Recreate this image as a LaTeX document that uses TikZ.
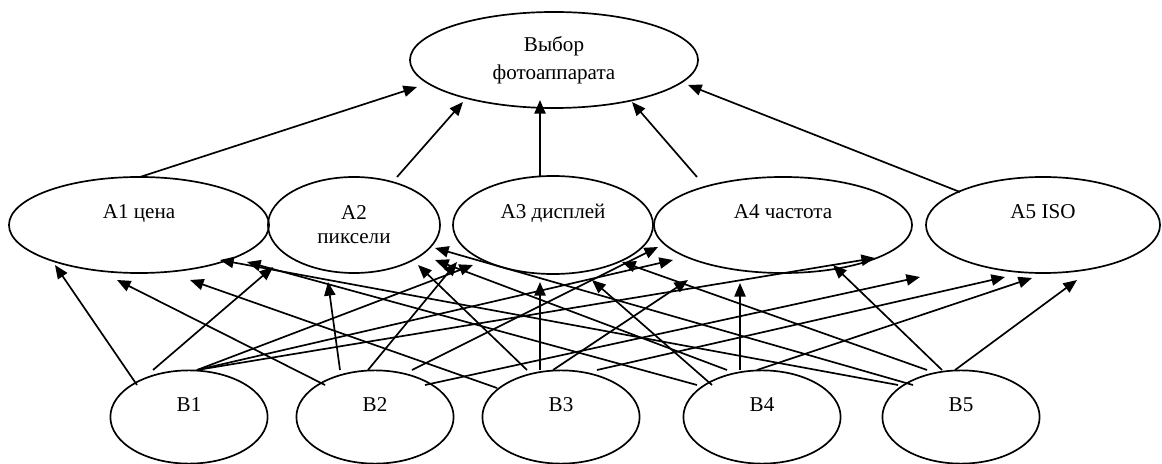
\documentclass[tikz,border=0pt]{standalone}
\usepackage{fontspec}
\setmainfont{Liberation Serif}
\usetikzlibrary{arrows.meta, shapes.geometric, calc}

\begin{document}
\begin{tikzpicture}[x=0.025cm, y=-0.025cm,
    font=\fontsize{15}{17}\selectfont,
    crit/.style={draw, ellipse, line width=1.2pt, inner sep=0pt, minimum height=2.4cm, align=center},
    upper/.style={text height=0.4cm, text depth=0.7cm},
    alt/.style={crit, upper, minimum width=3.93cm, minimum height=2.33cm},
    arrow/.style={-{Triangle[length=0.34cm, width=0.28cm]}, line width=1.2pt},
]
\useasboundingbox (0,0) rectangle (1162,464);
% goal
\node[crit, minimum width=7.2cm] (goal) at (554,60) {Выбор\\[3pt]фотоаппарата};
% criteria
\node[crit, upper, minimum width=6.5cm] (a1) at (139,225) {A1 цена};
\node[crit, minimum width=4.3cm] (a2) at (354,225) {A2\\пиксели};
\node[crit, upper, minimum width=5.0cm, minimum height=2.45cm] (a3) at (553,225) {A3 дисплей};
\node[crit, upper, minimum width=6.45cm] (a4) at (783,225) {A4 частота};
\node[crit, upper, minimum width=5.85cm] (a5) at (1043,225) {A5 ISO};
% alternatives
\node[alt] (b1) at (189,417) {B1};
\node[alt] (b2) at (375,417) {B2};
\node[alt] (b3) at (561,417) {B3};
\node[alt] (b4) at (762,417) {B4};
\node[alt] (b5) at (961,417) {B5};
% criteria -> goal
\draw[arrow] ($(a1)+(1,-48)$) -- ($(goal)+(-137,27)$);
\draw[arrow] ($(a2)+(43,-48)$) -- ($(goal)+(-91,42)$);
\draw[arrow] ($(a3)+(-13,-48)$) -- ($(goal)+(-14,40)$);
\draw[arrow] ($(a4)+(-86,-48)$) -- ($(goal)+(78,42)$);
\draw[arrow] ($(a5)+(-83,-33)$) -- ($(goal)+(134,25)$);
% alternatives -> criteria
\draw[arrow] ($(b1)+(-52,-32)$) -- ($(a1)+(-84,40)$); \draw[arrow] ($(b1)+(-36,-47)$) -- ($(a2)+(-81,42)$);
\draw[arrow] ($(b1)+(8,-47)$) -- ($(a3)+(-80,40)$); \draw[arrow] ($(b1)+(8,-47)$) -- ($(a4)+(-110,35)$);
\draw[arrow] ($(b1)+(8,-47)$) -- ($(a5)+(-168,33)$);
\draw[arrow] ($(b2)+(-50,-32)$) -- ($(a1)+(-22,55)$); \draw[arrow] ($(b2)+(-35,-47)$) -- ($(a2)+(-26,57)$);
\draw[arrow] ($(b2)+(-7,-47)$) -- ($(a3)+(-96,37)$); \draw[arrow] ($(b2)+(37,-47)$) -- ($(a4)+(-125,22)$);
\draw[arrow] ($(b2)+(50,-32)$) -- ($(a5)+(-123,52)$);
\draw[arrow] ($(b3)+(-64,-29)$) -- ($(a1)+(51,55)$); \draw[arrow] ($(b3)+(-34,-47)$) -- ($(a2)+(64,40)$);
\draw[arrow] ($(b3)+(-21,-47)$) -- ($(a3)+(-13,57)$); \draw[arrow] ($(b3)+(-8,-47)$) -- ($(a4)+(-95,55)$);
\draw[arrow] ($(b3)+(36,-47)$) -- ($(a5)+(-38,52)$);
\draw[arrow] ($(b4)+(-65,-32)$) -- ($(a1)+(108,37)$); \draw[arrow] ($(b4)+(-35,-47)$) -- ($(a2)+(81,35)$);
\draw[arrow] ($(b4)+(-50,-32)$) -- ($(a3)+(39,55)$); \draw[arrow] ($(b4)+(-22,-47)$) -- ($(a4)+(-43,58)$);
\draw[arrow] ($(b4)+(-5,-47)$) -- ($(a5)+(-11,53)$);
\draw[arrow] ($(b5)+(-63,-32)$) -- ($(a1)+(81,35)$); \draw[arrow] ($(b5)+(-48,-32)$) -- ($(a2)+(81,23)$);
\draw[arrow] ($(b5)+(-34,-47)$) -- ($(a3)+(69,37)$); \draw[arrow] ($(b5)+(-19,-47)$) -- ($(a4)+(50,40)$);
\draw[arrow] ($(b5)+(-6,-47)$) -- ($(a5)+(34,55)$);
\end{tikzpicture}
\end{document}
